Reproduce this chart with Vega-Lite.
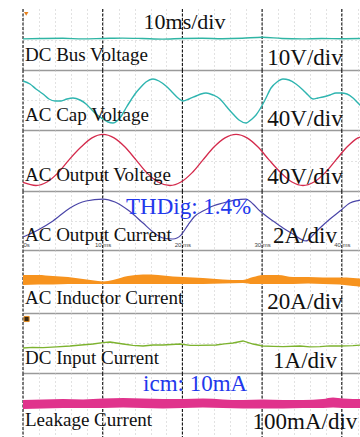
{
  "$schema": "https://vega.github.io/schema/vega-lite/v6.json",
  "padding": {"left": 20, "top": 8, "right": 0, "bottom": 0},
  "background": "white",
  "spacing": 0,
  "bounds": "flush",
  "config": {
    "view": {"stroke": null},
    "axisX": {"domainColor": "#9a9a9a", "domainWidth": 1.6, "ticks": false, "labels": false, "grid": true, "gridColor": "#c4c4c4", "gridDash": [1, 3], "gridWidth": 1, "tickCount": 21},
    "axisY": {"domain": false, "ticks": false, "labels": false, "grid": true, "gridColor": "#c4c4c4", "gridDash": [1, 3], "gridWidth": 1}
  },
  "datasets": {
    "grid": [{"t": 0}, {"t": 10}, {"t": 20}, {"t": 30}, {"t": 40}],
    "markers": [{"panel": "p1", "t": 0.4, "v": 2.76}, {"panel": "p6", "t": 0.45, "v": 2.7}],
    "labels": [
      {"panel": "p1", "name": "DC Bus Voltage", "scale": "10V/div", "note": "10ms/div"},
      {"panel": "p2", "name": "AC Cap Voltage", "scale": "40V/div", "note": ""},
      {"panel": "p3", "name": "AC Output Voltage", "scale": "40V/div", "note": ""},
      {"panel": "p4", "name": "AC Output Current", "scale": "2A/div", "note": "THDig: 1.4%"},
      {"panel": "p5", "name": "AC Inductor Current", "scale": "20A/div", "note": ""},
      {"panel": "p6", "name": "DC Input Current", "scale": "1A/div", "note": ""},
      {"panel": "p7", "name": "Leakage Current", "scale": "100mA/div", "note": "icm: 10mA"}
    ],
    "dcbus": [
      {"t": 0, "v": 1.53}, {"t": 2.5, "v": 1.55}, {"t": 5, "v": 1.56}, {"t": 7.5, "v": 1.53}, {"t": 10, "v": 1.55},
      {"t": 12.5, "v": 1.57}, {"t": 15, "v": 1.55}, {"t": 17.5, "v": 1.52}, {"t": 20, "v": 1.55}, {"t": 22.5, "v": 1.56},
      {"t": 25, "v": 1.54}, {"t": 27.5, "v": 1.56}, {"t": 30, "v": 1.61}, {"t": 32.5, "v": 1.55}, {"t": 35, "v": 1.53},
      {"t": 37.5, "v": 1.55}, {"t": 40, "v": 1.54}, {"t": 42.66, "v": 1.55}
    ],
    "accap": [
      {"t": 0, "v": 2.45}, {"t": 0.88, "v": 2.3}, {"t": 1.63, "v": 2.05}, {"t": 2.51, "v": 1.8}, {"t": 3.26, "v": 1.55},
      {"t": 4.02, "v": 1.45}, {"t": 4.77, "v": 1.45}, {"t": 5.52, "v": 1.55}, {"t": 6.27, "v": 1.6}, {"t": 7.15, "v": 1.5},
      {"t": 7.91, "v": 1.3}, {"t": 8.41, "v": 1.1}, {"t": 9.16, "v": 0.8}, {"t": 10.04, "v": 0.55}, {"t": 10.67, "v": 0.4},
      {"t": 11.29, "v": 0.35}, {"t": 11.92, "v": 0.5}, {"t": 12.42, "v": 0.75}, {"t": 12.92, "v": 1.1}, {"t": 13.55, "v": 1.5},
      {"t": 14.05, "v": 1.8}, {"t": 14.68, "v": 2.1}, {"t": 15.43, "v": 2.4}, {"t": 16.31, "v": 2.55}, {"t": 17.06, "v": 2.45},
      {"t": 17.94, "v": 2.2}, {"t": 18.82, "v": 1.85}, {"t": 19.45, "v": 1.6}, {"t": 20.08, "v": 1.45}, {"t": 20.83, "v": 1.55},
      {"t": 21.71, "v": 1.7}, {"t": 22.33, "v": 1.8}, {"t": 22.96, "v": 1.85}, {"t": 23.84, "v": 1.75}, {"t": 24.72, "v": 1.55},
      {"t": 25.47, "v": 1.2}, {"t": 26.35, "v": 0.8}, {"t": 27.1, "v": 0.5}, {"t": 27.98, "v": 0.35}, {"t": 28.73, "v": 0.55},
      {"t": 29.24, "v": 0.75}, {"t": 29.74, "v": 1.05}, {"t": 30.36, "v": 1.5}, {"t": 31.12, "v": 2.1}, {"t": 31.87, "v": 2.4},
      {"t": 32.62, "v": 2.55}, {"t": 33.38, "v": 2.5}, {"t": 34.25, "v": 2.3}, {"t": 35.13, "v": 2.0}, {"t": 35.76, "v": 1.75},
      {"t": 36.39, "v": 1.55}, {"t": 37.01, "v": 1.6}, {"t": 37.64, "v": 1.65}, {"t": 38.52, "v": 1.75}, {"t": 39.27, "v": 1.85},
      {"t": 39.9, "v": 1.85}, {"t": 40.65, "v": 1.8}, {"t": 41.41, "v": 1.6}, {"t": 42.03, "v": 1.35}, {"t": 42.66, "v": 1.1}
    ],
    "acvout": [
      {"t": 0, "v": 0.42}, {"t": 1.63, "v": 0.27}, {"t": 3.01, "v": 0.44}, {"t": 4.39, "v": 0.89}, {"t": 5.77, "v": 1.53},
      {"t": 7.28, "v": 2.16}, {"t": 8.66, "v": 2.61}, {"t": 10.04, "v": 2.78}, {"t": 11.42, "v": 2.61}, {"t": 12.8, "v": 2.16},
      {"t": 14.18, "v": 1.53}, {"t": 15.56, "v": 0.89}, {"t": 16.94, "v": 0.44}, {"t": 18.44, "v": 0.27}, {"t": 19.82, "v": 0.44},
      {"t": 21.2, "v": 0.89}, {"t": 22.58, "v": 1.53}, {"t": 23.96, "v": 2.16}, {"t": 25.35, "v": 2.61}, {"t": 26.73, "v": 2.78},
      {"t": 28.11, "v": 2.61}, {"t": 29.49, "v": 2.16}, {"t": 30.87, "v": 1.53}, {"t": 32.37, "v": 0.89}, {"t": 33.75, "v": 0.44},
      {"t": 35.13, "v": 0.27}, {"t": 36.51, "v": 0.44}, {"t": 37.89, "v": 0.89}, {"t": 39.27, "v": 1.53}, {"t": 40.65, "v": 2.16},
      {"t": 42.03, "v": 2.61}, {"t": 42.66, "v": 2.7}
    ],
    "aciout": [
      {"t": 0, "v": 0.66}, {"t": 1.88, "v": 1.02}, {"t": 3.76, "v": 1.48}, {"t": 5.9, "v": 2.14}, {"t": 7.9, "v": 2.49},
      {"t": 10.04, "v": 2.59}, {"t": 11.54, "v": 2.44}, {"t": 13.17, "v": 2.03}, {"t": 15.06, "v": 1.37}, {"t": 16.31, "v": 0.92},
      {"t": 17.57, "v": 0.61}, {"t": 18.82, "v": 0.56}, {"t": 19.82, "v": 0.76}, {"t": 20.7, "v": 1.27}, {"t": 21.58, "v": 1.73},
      {"t": 22.58, "v": 1.98}, {"t": 23.84, "v": 2.24}, {"t": 25.09, "v": 2.39}, {"t": 26.6, "v": 2.54}, {"t": 27.98, "v": 2.59},
      {"t": 28.86, "v": 2.34}, {"t": 29.74, "v": 1.98}, {"t": 31.37, "v": 1.48}, {"t": 32.62, "v": 1.12}, {"t": 33.88, "v": 0.81},
      {"t": 35.51, "v": 0.46}, {"t": 36.39, "v": 0.76}, {"t": 37.26, "v": 1.12}, {"t": 38.52, "v": 1.58}, {"t": 39.77, "v": 1.98},
      {"t": 41.03, "v": 2.39}, {"t": 42.28, "v": 2.54}, {"t": 42.66, "v": 2.59}
    ],
    "acind": [
      {"t": 0, "hi": 1.81, "lo": 1.33}, {"t": 1.88, "hi": 1.81, "lo": 1.36}, {"t": 3.76, "hi": 1.76, "lo": 1.36},
      {"t": 5.65, "hi": 1.71, "lo": 1.38}, {"t": 7.53, "hi": 1.62, "lo": 1.38}, {"t": 9.41, "hi": 1.52, "lo": 1.38},
      {"t": 10.04, "hi": 1.5, "lo": 1.38}, {"t": 11.29, "hi": 1.57, "lo": 1.38}, {"t": 13.17, "hi": 1.76, "lo": 1.38},
      {"t": 15.06, "hi": 1.83, "lo": 1.38}, {"t": 16.94, "hi": 1.81, "lo": 1.38}, {"t": 18.82, "hi": 1.74, "lo": 1.38},
      {"t": 20.08, "hi": 1.71, "lo": 1.38}, {"t": 22.58, "hi": 1.67, "lo": 1.38}, {"t": 25.09, "hi": 1.6, "lo": 1.4},
      {"t": 27.6, "hi": 1.57, "lo": 1.43}, {"t": 28.86, "hi": 1.71, "lo": 1.38}, {"t": 30.11, "hi": 1.81, "lo": 1.38},
      {"t": 32.0, "hi": 1.81, "lo": 1.38}, {"t": 33.88, "hi": 1.71, "lo": 1.38}, {"t": 35.76, "hi": 1.71, "lo": 1.4},
      {"t": 37.64, "hi": 1.69, "lo": 1.38}, {"t": 39.77, "hi": 1.69, "lo": 1.36}, {"t": 41.41, "hi": 1.67, "lo": 1.29},
      {"t": 42.66, "hi": 1.62, "lo": 1.24}
    ],
    "dcin": [
      {"t": 0, "v": 1.25}, {"t": 1.2, "v": 1.28}, {"t": 2.51, "v": 1.27}, {"t": 4.2, "v": 1.31}, {"t": 5.9, "v": 1.35},
      {"t": 7.3, "v": 1.4}, {"t": 8.78, "v": 1.45}, {"t": 10.0, "v": 1.52}, {"t": 10.92, "v": 1.55}, {"t": 12.55, "v": 1.45},
      {"t": 13.8, "v": 1.38}, {"t": 15.06, "v": 1.35}, {"t": 16.3, "v": 1.4}, {"t": 17.57, "v": 1.4}, {"t": 19.7, "v": 1.45},
      {"t": 21.0, "v": 1.38}, {"t": 21.96, "v": 1.38}, {"t": 24.22, "v": 1.4}, {"t": 25.3, "v": 1.46}, {"t": 26.35, "v": 1.5},
      {"t": 27.6, "v": 1.6}, {"t": 28.86, "v": 1.45}, {"t": 30.11, "v": 1.35}, {"t": 31.4, "v": 1.33}, {"t": 32.62, "v": 1.32},
      {"t": 34.76, "v": 1.35}, {"t": 36.0, "v": 1.31}, {"t": 37.26, "v": 1.32}, {"t": 38.5, "v": 1.36}, {"t": 39.77, "v": 1.35},
      {"t": 41.41, "v": 1.37}, {"t": 42.66, "v": 1.4}
    ],
    "leak": [
      {"t": 0, "hi": 1.75, "lo": 1.34}, {"t": 2.51, "hi": 1.78, "lo": 1.36}, {"t": 5.02, "hi": 1.8, "lo": 1.38},
      {"t": 7.53, "hi": 1.78, "lo": 1.38}, {"t": 10.04, "hi": 1.82, "lo": 1.38}, {"t": 12.55, "hi": 1.85, "lo": 1.41},
      {"t": 15.06, "hi": 1.82, "lo": 1.38}, {"t": 17.57, "hi": 1.8, "lo": 1.36}, {"t": 20.08, "hi": 1.8, "lo": 1.38},
      {"t": 22.58, "hi": 1.82, "lo": 1.41}, {"t": 25.09, "hi": 1.78, "lo": 1.38}, {"t": 27.6, "hi": 1.75, "lo": 1.36},
      {"t": 30.11, "hi": 1.78, "lo": 1.36}, {"t": 32.62, "hi": 1.75, "lo": 1.36}, {"t": 35.13, "hi": 1.75, "lo": 1.38},
      {"t": 37.64, "hi": 1.8, "lo": 1.38}, {"t": 38.9, "hi": 1.87, "lo": 1.41}, {"t": 40.15, "hi": 1.82, "lo": 1.38},
      {"t": 41.41, "hi": 1.8, "lo": 1.38}, {"t": 42.66, "hi": 1.8, "lo": 1.38}
    ]
  },
  "vconcat": [
    {
      "width": 340, "height": 61,
      "layer": [
        {"data": {"name": "grid"}, "mark": {"type": "rule", "color": "#111111", "strokeWidth": 1.1, "strokeDash": [3, 1.5]},
         "encoding": {"x": {"field": "t", "type": "quantitative", "title": null, "scale": {"domain": [0, 42.66], "nice": false, "zero": false}}}},
        {"data": {"name": "dcbus"}, "mark": {"type": "line", "color": "#2fb5a4", "strokeWidth": 1.4, "interpolate": "monotone"},
         "encoding": {"x": {"field": "t", "type": "quantitative", "title": null}, "y": {"field": "v", "type": "quantitative", "title": null, "scale": {"domain": [0, 3], "nice": false, "zero": false}, "axis": {"values": [1.5]}}}},
        {"data": {"name": "markers"}, "transform": [{"filter": "datum.panel == 'p1'"}],
         "mark": {"type": "point", "shape": "triangle-down", "size": 20, "filled": true, "color": "#e8821e", "opacity": 1},
         "encoding": {"x": {"field": "t", "type": "quantitative", "title": null}, "y": {"field": "v", "type": "quantitative", "title": null}}},
        {"data": {"name": "labels"}, "transform": [{"filter": "datum.panel == 'p1'"}],
         "mark": {"type": "text", "font": "Liberation Serif", "fontSize": 19, "align": "left", "baseline": "alphabetic", "dx": 2, "dy": -9, "color": "#111111"},
         "encoding": {"x": {"datum": 0, "type": "quantitative"}, "y": {"datum": 0, "type": "quantitative"}, "text": {"field": "name"}}},
        {"data": {"name": "labels"}, "transform": [{"filter": "datum.panel == 'p1'"}],
         "mark": {"type": "text", "font": "Liberation Serif", "fontSize": 23, "align": "center", "baseline": "alphabetic", "dy": -5, "color": "#111111"},
         "encoding": {"x": {"datum": 35.38, "type": "quantitative"}, "y": {"datum": 0, "type": "quantitative"}, "text": {"field": "scale"}}},
        {"data": {"name": "labels"}, "transform": [{"filter": "datum.panel == 'p1'"}],
         "mark": {"type": "text", "font": "Liberation Serif", "fontSize": 22, "align": "center", "baseline": "alphabetic", "color": "#111111"},
         "encoding": {"x": {"datum": 20.26, "type": "quantitative"}, "y": {"datum": 2.02, "type": "quantitative"}, "text": {"field": "note"}}}
      ]
    },
    {
      "width": 340, "height": 60,
      "layer": [
        {"data": {"name": "grid"}, "mark": {"type": "rule", "color": "#111111", "strokeWidth": 1.1, "strokeDash": [3, 1.5]},
         "encoding": {"x": {"field": "t", "type": "quantitative", "title": null, "scale": {"domain": [0, 42.66], "nice": false, "zero": false}}}},
        {"data": {"name": "accap"}, "mark": {"type": "line", "color": "#2fb5b0", "strokeWidth": 1.4, "interpolate": "monotone"},
         "encoding": {"x": {"field": "t", "type": "quantitative", "title": null}, "y": {"field": "v", "type": "quantitative", "title": null, "scale": {"domain": [0, 3], "nice": false, "zero": false}, "axis": {"values": [1.5]}}}},
        {"data": {"name": "labels"}, "transform": [{"filter": "datum.panel == 'p2'"}],
         "mark": {"type": "text", "font": "Liberation Serif", "fontSize": 19, "align": "left", "baseline": "alphabetic", "dx": 2, "dy": -9, "color": "#111111"},
         "encoding": {"x": {"datum": 0, "type": "quantitative"}, "y": {"datum": 0, "type": "quantitative"}, "text": {"field": "name"}}},
        {"data": {"name": "labels"}, "transform": [{"filter": "datum.panel == 'p2'"}],
         "mark": {"type": "text", "font": "Liberation Serif", "fontSize": 23, "align": "center", "baseline": "alphabetic", "dy": -4, "color": "#111111"},
         "encoding": {"x": {"datum": 35.38, "type": "quantitative"}, "y": {"datum": 0, "type": "quantitative"}, "text": {"field": "scale"}}}
      ]
    },
    {
      "width": 340, "height": 61,
      "layer": [
        {"data": {"name": "grid"}, "mark": {"type": "rule", "color": "#111111", "strokeWidth": 1.1, "strokeDash": [3, 1.5]},
         "encoding": {"x": {"field": "t", "type": "quantitative", "title": null, "scale": {"domain": [0, 42.66], "nice": false, "zero": false}}}},
        {"data": {"name": "acvout"}, "mark": {"type": "line", "color": "#d42a4c", "strokeWidth": 1.3, "interpolate": "monotone"},
         "encoding": {"x": {"field": "t", "type": "quantitative", "title": null}, "y": {"field": "v", "type": "quantitative", "title": null, "scale": {"domain": [0, 3], "nice": false, "zero": false}, "axis": {"values": [1.5]}}}},
        {"data": {"name": "labels"}, "transform": [{"filter": "datum.panel == 'p3'"}],
         "mark": {"type": "text", "font": "Liberation Serif", "fontSize": 19, "align": "left", "baseline": "alphabetic", "dx": 2, "dy": -10, "color": "#111111"},
         "encoding": {"x": {"datum": 0, "type": "quantitative"}, "y": {"datum": 0, "type": "quantitative"}, "text": {"field": "name"}}},
        {"data": {"name": "labels"}, "transform": [{"filter": "datum.panel == 'p3'"}],
         "mark": {"type": "text", "font": "Liberation Serif", "fontSize": 23, "align": "center", "baseline": "alphabetic", "dy": -7, "color": "#111111"},
         "encoding": {"x": {"datum": 35.38, "type": "quantitative"}, "y": {"datum": 0, "type": "quantitative"}, "text": {"field": "scale"}}}
      ]
    },
    {
      "width": 340, "height": 59,
      "layer": [
        {"data": {"name": "grid"}, "mark": {"type": "rule", "color": "#111111", "strokeWidth": 1.1, "strokeDash": [3, 1.5]},
         "encoding": {"x": {"field": "t", "type": "quantitative", "title": null, "scale": {"domain": [0, 42.66], "nice": false, "zero": false},
           "axis": {"labels": true, "labelExpr": "datum.value == 0 ? '0s' : (datum.value % 10 == 0 ? datum.value + ' ms' : '')", "labelFont": "Liberation Sans", "labelFontSize": 6, "labelColor": "#444444", "labelPadding": -9, "labelFlush": true, "labelOverlap": false, "labelBound": false}}}},
        {"data": {"name": "aciout"}, "mark": {"type": "line", "color": "#4a45a8", "strokeWidth": 1.2, "interpolate": "monotone"},
         "encoding": {"x": {"field": "t", "type": "quantitative", "title": null}, "y": {"field": "v", "type": "quantitative", "title": null, "scale": {"domain": [0, 3], "nice": false, "zero": false}, "axis": {"values": [1.5]}}}},
        {"data": {"name": "labels"}, "transform": [{"filter": "datum.panel == 'p4'"}],
         "mark": {"type": "text", "font": "Liberation Serif", "fontSize": 19, "align": "left", "baseline": "alphabetic", "dx": 2, "dy": -9, "color": "#111111"},
         "encoding": {"x": {"datum": 0, "type": "quantitative"}, "y": {"datum": 0, "type": "quantitative"}, "text": {"field": "name"}}},
        {"data": {"name": "labels"}, "transform": [{"filter": "datum.panel == 'p4'"}],
         "mark": {"type": "text", "font": "Liberation Serif", "fontSize": 23, "align": "center", "baseline": "alphabetic", "dy": -7, "color": "#111111"},
         "encoding": {"x": {"datum": 35.38, "type": "quantitative"}, "y": {"datum": 0, "type": "quantitative"}, "text": {"field": "scale"}}},
        {"data": {"name": "labels"}, "transform": [{"filter": "datum.panel == 'p4'"}],
         "mark": {"type": "text", "font": "Liberation Serif", "fontSize": 23, "align": "left", "baseline": "alphabetic", "color": "#2238ec"},
         "encoding": {"x": {"datum": 12.92, "type": "quantitative"}, "y": {"datum": 1.83, "type": "quantitative"}, "text": {"field": "note"}}}
      ]
    },
    {
      "width": 340, "height": 63,
      "layer": [
        {"data": {"name": "grid"}, "mark": {"type": "rule", "color": "#111111", "strokeWidth": 1.1, "strokeDash": [3, 1.5]},
         "encoding": {"x": {"field": "t", "type": "quantitative", "title": null, "scale": {"domain": [0, 42.66], "nice": false, "zero": false}}}},
        {"data": {"name": "acind"}, "mark": {"type": "area", "color": "#f7931e", "opacity": 1, "interpolate": "monotone"},
         "encoding": {"x": {"field": "t", "type": "quantitative", "title": null}, "y": {"field": "hi", "type": "quantitative", "title": null, "scale": {"domain": [0, 3], "nice": false, "zero": false}, "axis": {"values": [1.5]}}, "y2": {"field": "lo"}}},
        {"data": {"name": "labels"}, "transform": [{"filter": "datum.panel == 'p5'"}],
         "mark": {"type": "text", "font": "Liberation Serif", "fontSize": 19, "align": "left", "baseline": "alphabetic", "dx": 2, "dy": -9, "color": "#111111"},
         "encoding": {"x": {"datum": 0, "type": "quantitative"}, "y": {"datum": 0, "type": "quantitative"}, "text": {"field": "name"}}},
        {"data": {"name": "labels"}, "transform": [{"filter": "datum.panel == 'p5'"}],
         "mark": {"type": "text", "font": "Liberation Serif", "fontSize": 23, "align": "center", "baseline": "alphabetic", "dy": -4, "color": "#111111"},
         "encoding": {"x": {"datum": 35.38, "type": "quantitative"}, "y": {"datum": 0, "type": "quantitative"}, "text": {"field": "scale"}}}
      ]
    },
    {
      "width": 340, "height": 60,
      "layer": [
        {"data": {"name": "grid"}, "mark": {"type": "rule", "color": "#111111", "strokeWidth": 1.1, "strokeDash": [3, 1.5]},
         "encoding": {"x": {"field": "t", "type": "quantitative", "title": null, "scale": {"domain": [0, 42.66], "nice": false, "zero": false}}}},
        {"data": {"name": "dcin"}, "mark": {"type": "line", "color": "#7db32f", "strokeWidth": 1.3, "interpolate": "linear"},
         "encoding": {"x": {"field": "t", "type": "quantitative", "title": null}, "y": {"field": "v", "type": "quantitative", "title": null, "scale": {"domain": [0, 3], "nice": false, "zero": false}, "axis": {"values": [1.5]}}}},
        {"data": {"name": "markers"}, "transform": [{"filter": "datum.panel == 'p6'"}],
         "mark": {"type": "square", "size": 26, "filled": true, "color": "#3a2a12", "stroke": "#e0891f", "strokeWidth": 1, "opacity": 1},
         "encoding": {"x": {"field": "t", "type": "quantitative", "title": null}, "y": {"field": "v", "type": "quantitative", "title": null}}},
        {"data": {"name": "labels"}, "transform": [{"filter": "datum.panel == 'p6'"}],
         "mark": {"type": "text", "font": "Liberation Serif", "fontSize": 19, "align": "left", "baseline": "alphabetic", "dx": 2, "dy": -9, "color": "#111111"},
         "encoding": {"x": {"datum": 0, "type": "quantitative"}, "y": {"datum": 0, "type": "quantitative"}, "text": {"field": "name"}}},
        {"data": {"name": "labels"}, "transform": [{"filter": "datum.panel == 'p6'"}],
         "mark": {"type": "text", "font": "Liberation Serif", "fontSize": 23, "align": "center", "baseline": "alphabetic", "dy": -5, "color": "#111111"},
         "encoding": {"x": {"datum": 35.38, "type": "quantitative"}, "y": {"datum": 0, "type": "quantitative"}, "text": {"field": "scale"}}}
      ]
    },
    {
      "width": 340, "height": 65,
      "layer": [
        {"data": {"name": "grid"}, "mark": {"type": "rule", "color": "#111111", "strokeWidth": 1.1, "strokeDash": [3, 1.5]},
         "encoding": {"x": {"field": "t", "type": "quantitative", "title": null, "scale": {"domain": [0, 42.66], "nice": false, "zero": false}}}},
        {"data": {"name": "leak"}, "mark": {"type": "area", "color": "#e0338c", "opacity": 1, "interpolate": "monotone"},
         "encoding": {"x": {"field": "t", "type": "quantitative", "title": null}, "y": {"field": "hi", "type": "quantitative", "title": null, "scale": {"domain": [0, 3], "nice": false, "zero": false}, "axis": {"values": [1.5]}}, "y2": {"field": "lo"}}},
        {"data": {"name": "labels"}, "transform": [{"filter": "datum.panel == 'p7'"}],
         "mark": {"type": "text", "font": "Liberation Serif", "fontSize": 19, "align": "left", "baseline": "alphabetic", "dx": 2, "dy": -12, "color": "#111111"},
         "encoding": {"x": {"datum": 0, "type": "quantitative"}, "y": {"datum": 0, "type": "quantitative"}, "text": {"field": "name"}}},
        {"data": {"name": "labels"}, "transform": [{"filter": "datum.panel == 'p7'"}],
         "mark": {"type": "text", "font": "Liberation Serif", "fontSize": 23, "align": "center", "baseline": "alphabetic", "dy": -9, "color": "#111111"},
         "encoding": {"x": {"datum": 35.38, "type": "quantitative"}, "y": {"datum": 0, "type": "quantitative"}, "text": {"field": "scale"}}},
        {"data": {"name": "labels"}, "transform": [{"filter": "datum.panel == 'p7'"}],
         "mark": {"type": "text", "font": "Liberation Serif", "fontSize": 23, "align": "left", "baseline": "alphabetic", "color": "#2238ec"},
         "encoding": {"x": {"datum": 15.06, "type": "quantitative"}, "y": {"datum": 2.17, "type": "quantitative"}, "text": {"field": "note"}}}
      ]
    }
  ]
}
